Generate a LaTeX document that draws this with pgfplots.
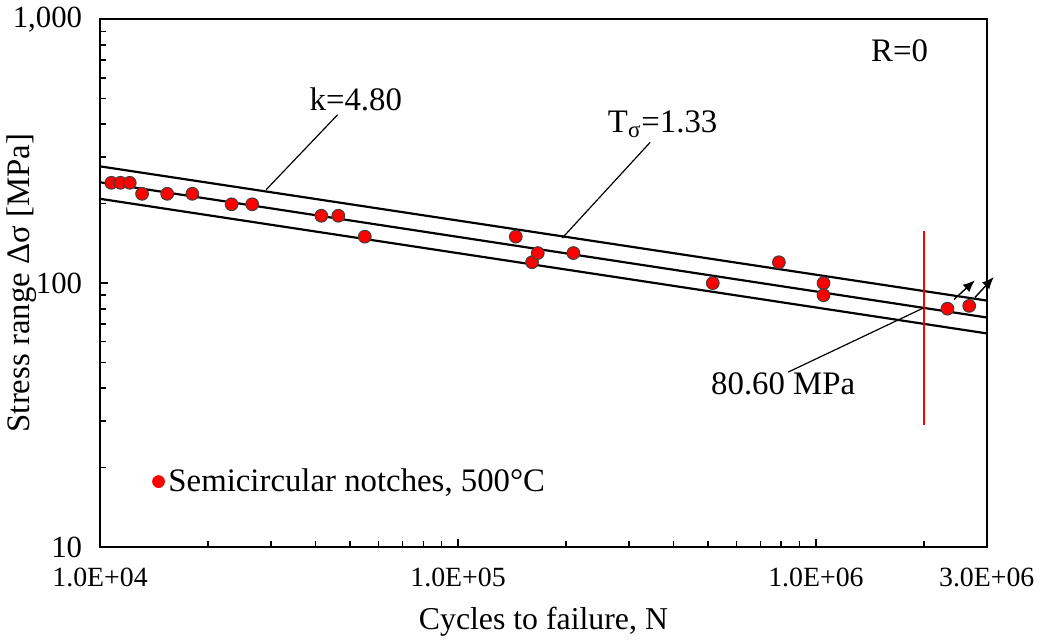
\documentclass[border=0pt]{standalone}
\usepackage{fontspec}
\setmainfont{Liberation Serif}
\usepackage{pgfplots}
\pgfplotsset{compat=1.18}
\usetikzlibrary{arrows.meta}
\begin{document}
\begin{tikzpicture}
\begin{axis}[
  xmode=log, ymode=log,
  scale only axis, width=446pt, height=265.5pt,
  xmin=1e4, xmax=3e6, ymin=10, ymax=1000,
  xtick={1e4,1e5,1e6,3e6},
  xticklabels={1.0E+04,1.0E+05,1.0E+06,3.0E+06},
  ytick={10,100,1000},
  yticklabels={10,100,{1,000}},
  minor xtick={2e4,3e4,4e4,5e4,6e4,7e4,8e4,9e4,2e5,3e5,4e5,5e5,6e5,7e5,8e5,9e5,2e6},
  minor ytick={20,30,40,50,60,70,80,90,200,300,400,500,600,700,800,900},
  tick align=inside, xtick pos=bottom, ytick pos=left,
  major tick length=4pt, minor tick length=3pt,
  tick style={black, line width=0.8pt},
  axis line style={line width=1.2pt},
  /pgf/number format/assume math mode=true,
  xticklabel style={font=\fontsize{14}{16}\selectfont, anchor=base, yshift=-20pt},
  yticklabel style={font=\fontsize{15.5}{18}\selectfont, anchor=east, xshift=-5.5pt},
  xlabel style={font=\fontsize{16}{19}\selectfont, at={(axis description cs:0.5,-0.1563)}, anchor=base},
  ylabel style={font=\fontsize{16.5}{19}\selectfont, at={(axis description cs:-0.0886,0.5)}, anchor=center},
  xlabel={Cycles to failure, N},
  ylabel={Stress range Δσ [MPa]},
  clip=false,
  legend style={draw=none, fill=none, at={(0.052,0.124)}, anchor=west,
    font=\fontsize{16.5}{19}\selectfont},
  legend cell align=left,
]
\addlegendimage{only marks, mark=*, mark size=3pt, red}
\addlegendentry{Semicircular notches, 500°C}
% data points
\addplot[only marks, mark=*, mark size=3.2pt,
  mark options={fill=red, draw=black!75, line width=0.5pt}, forget plot] table {
x y
1.075e4 240
1.14e4 240
1.21e4 240
1.31e4 218
1.54e4 218
1.81e4 218
2.33e4 199
2.66e4 199
4.15e4 180
4.63e4 180
5.49e4 150
1.45e5 150
1.61e5 120
1.67e5 130
2.10e5 130
5.15e5 100
7.88e5 120
1.05e6 100
1.05e6 90
2.33e6 80
2.68e6 82
};
% scatter band lines
\addplot[black, line width=1.1pt, forget plot] coordinates {(1e4,277) (3e6,85.9)};
\addplot[black, line width=1.1pt, forget plot] coordinates {(1e4,241) (3e6,74.1)};
\addplot[black, line width=1.1pt, forget plot] coordinates {(1e4,208.7) (3e6,64.5)};
% 2e6 marker line
\addplot[red, line width=0.9pt, forget plot] coordinates {(2e6,29) (2e6,158)};
% run-out arrows
\draw[black, line width=0.7pt, -{Latex[length=6pt,width=5pt]}] (axis cs:2.43e6,86.7) -- (axis cs:2.78e6,102.5);
\draw[black, line width=0.7pt, -{Latex[length=6pt,width=5pt]}] (axis cs:2.78e6,88.2) -- (axis cs:3.14e6,105.5);
% leaders
\draw[black, line width=0.6pt] (axis cs:2.91e4,226) -- (axis cs:4.61e4,434.8);
\draw[black, line width=0.6pt] (axis cs:1.957e5,148.4) -- (axis cs:3.44e5,341.3);
\draw[black, line width=0.6pt] (axis cs:8.36e5,46.0) -- (axis cs:2e6,80.6);
% labels
\node[font=\fontsize{16.5}{19}\selectfont] at (axis cs:5.18e4,495.3) {k=4.80};
\node[font=\fontsize{16.5}{19}\selectfont] at (axis cs:3.73e5,398.9) {T\textsubscript{σ}=1.33};
\node[font=\fontsize{16.5}{19}\selectfont] at (axis cs:8.10e5,41.5) {80.60 MPa};
\node[font=\fontsize{16.5}{19}\selectfont] at (axis cs:1.712e6,757.9) {R=0};
\end{axis}
\end{tikzpicture}
\end{document}
